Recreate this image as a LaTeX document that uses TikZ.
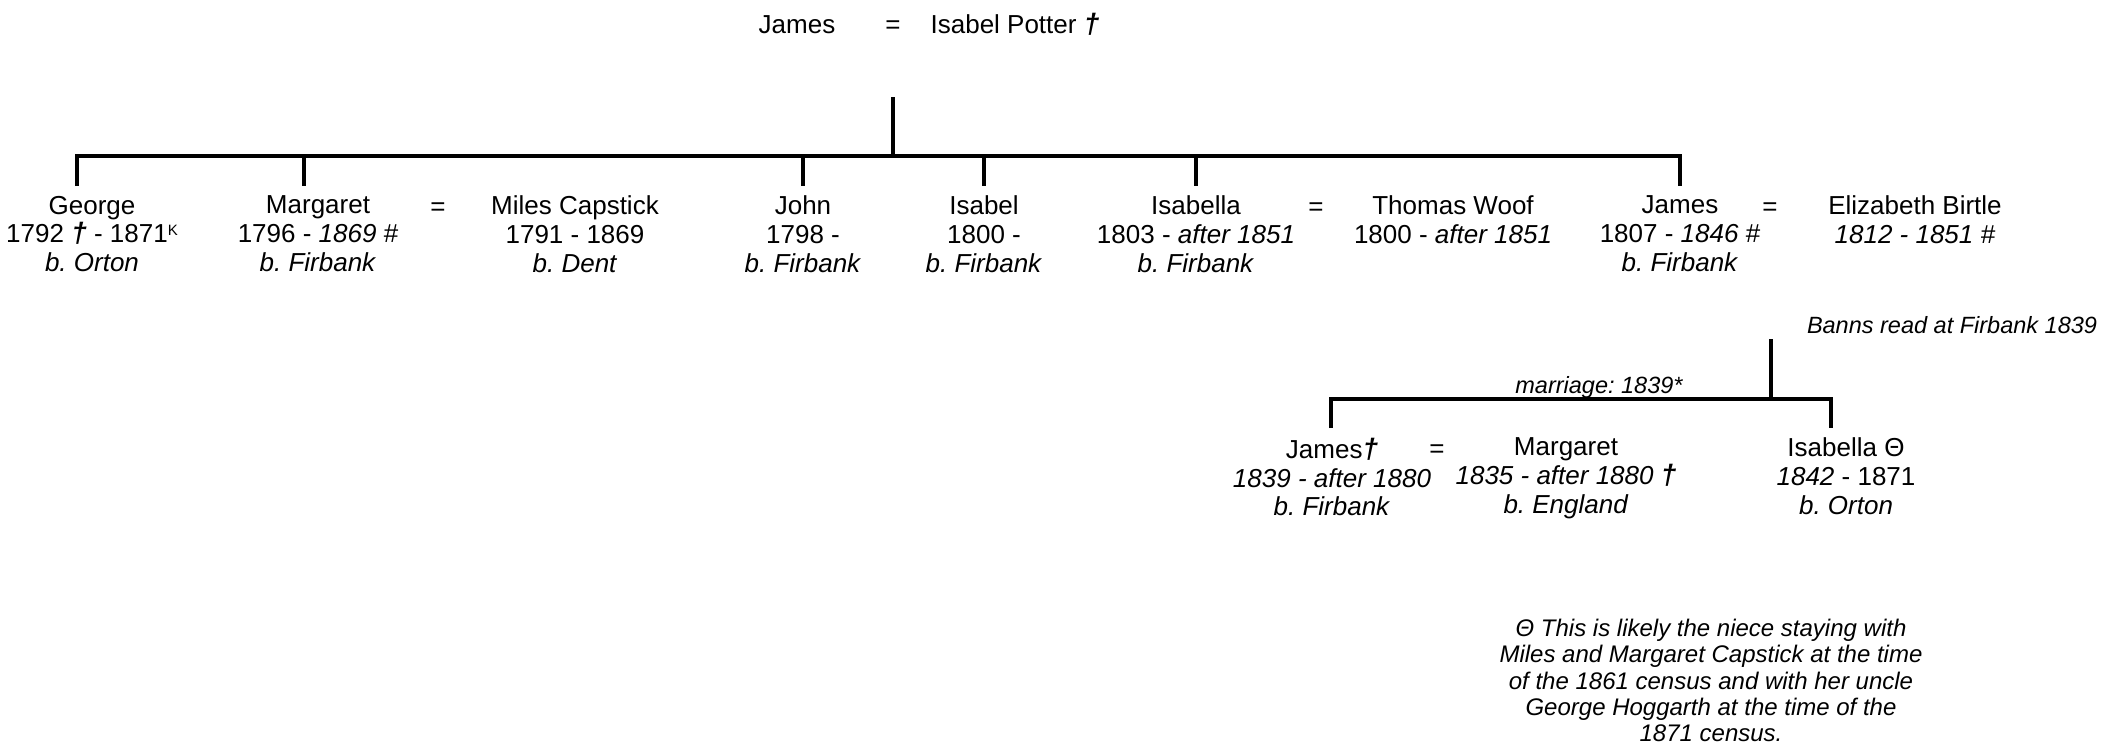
\documentclass[tikz,border=0pt]{standalone}
\usepackage{fontspec}
\setmainfont{Liberation Sans}
\frenchspacing
\newcommand\mydag{{\fontsize{28}{28}\selectfont\bfseries\itshape †}}
\begin{document}
\begin{tikzpicture}[x=1pt,y=-1pt,
  every node/.style={inner sep=0pt, outer sep=0pt},
  person/.style={align=center, anchor=north, font=\fontsize{26}{28.8}\selectfont\frenchspacing},
  single/.style={anchor=base, font=\fontsize{26}{28.8}\selectfont},
  anno/.style={font=\fontsize{23.5}{26.3}\selectfont\itshape},
  notebox/.style={align=center, anchor=north, font=\fontsize{24}{26.3}\selectfont\itshape},
  link/.style={line width=3.2pt, line join=miter}]
\useasboundingbox (0,0) rectangle (2112,744);

% generation 1
\node[single] (gJames) at (797,33) {James};
\node[single] (gEq) at (893,33) {=};
\node[single] (gIsabel) at (1015,33) {Isabel Potter \mydag};
\coordinate (pm1) at (893,97);
\coordinate (jc1) at (893,156);

% generation 2 drop points
\coordinate (dGeorge) at (77,186);
\coordinate (dMargaret) at (304,186);
\coordinate (dJohn) at (803,186);
\coordinate (dIsabel) at (984,186);
\coordinate (dIsabella) at (1196,186);
\coordinate (dJames) at (1680,186);

% generation 2
\node[person] (george) at (92,196) {George\\1792 \mydag\ - 1871{\fontsize{15}{15}\selectfont\raisebox{7pt}{K}}\\\textit{b. Orton}};
\node[person] (margaret) at (318,196) {Margaret\\1796 - \textit{1869} \#\\\textit{b. Firbank}};
\node[single] (eq1) at (438,215) {=};
\node[person] (miles) at (575,196) {Miles Capstick\\1791 - 1869\\\textit{b. Dent}};
\node[person] (john) at (803,196) {John\\1798 -\\\textit{b. Firbank}};
\node[person] (isabel) at (984,196) {Isabel\\1800 -\\\textit{b. Firbank}};
\node[person] (isabella) at (1196,196) {Isabella\\1803 - \textit{after 1851}\\\textit{b. Firbank}};
\node[single] (eq2) at (1316,215) {=};
\node[person] (thomas) at (1453,196) {Thomas Woof\\1800 - \textit{after 1851}};
\node[person] (james) at (1680,196) {James\\1807 - \textit{1846} \#\\\textit{b. Firbank}};
\node[single] (eq3) at (1770,215) {=};
\node[person] (elizabeth) at (1915,196) {Elizabeth Birtle\\\textit{1812 - 1851 \#}};

% generation 3
\node[anno, anchor=base east] (banns) at (2097,333) {Banns read at Firbank 1839};
\coordinate (pm2) at (1771,339);
\coordinate (jc2) at (1771,399);
\node[anno, anchor=base] (marr) at (1599,393) {marriage: 1839*};
\coordinate (dJames3) at (1331,428);
\coordinate (dIsabella3) at (1831,428);
\node[person] (james3) at (1332,438) {James\mydag\\\textit{1839 - after 1880}\\\textit{b. Firbank}};
\node[single] (eq4) at (1437,457) {=};
\node[person] (margaret3) at (1566,438) {Margaret\\\textit{1835 - after 1880} \mydag\\\textit{b. England}};
\node[person] (isabella3) at (1846,438) {Isabella Θ\\\textit{1842} - 1871\\\textit{b. Orton}};

% note
\node[notebox] (note) at (1711,619) {Θ This is likely the niece staying with\\Miles and Margaret Capstick at the time\\of the 1861 census and with her uncle\\George Hoggarth at the time of the\\1871 census.};

% connectors
\draw[link] (pm1) -- (jc1);
\draw[link] (dGeorge) |- (jc1) -| (dJames);
\foreach \c in {dMargaret,dJohn,dIsabel,dIsabella}
  \draw[link] (\c |- jc1) -- (\c);
\draw[link] (pm2) -- (jc2);
\draw[link] (dJames3) |- (jc2) -| (dIsabella3);
\end{tikzpicture}
\end{document}
